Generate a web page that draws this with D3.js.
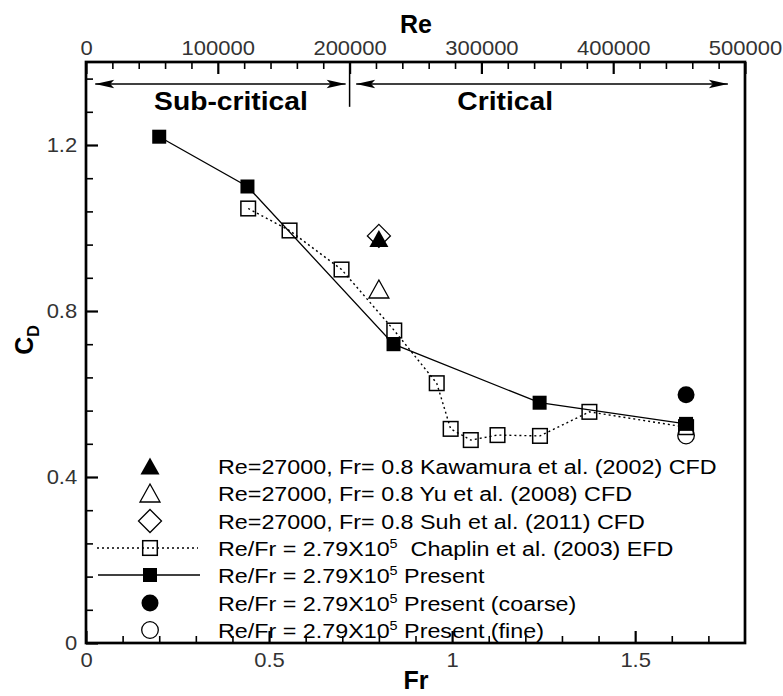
<!DOCTYPE html>
<html><head><meta charset="utf-8">
<script src="https://cdn.jsdelivr.net/npm/d3@7"></script>
<style>body{margin:0;background:#fff} svg{display:block}</style>
</head><body>
<svg id="c" width="783" height="696"></svg>
<script>
// ---------------- data ----------------
const presentFr = [0.200, 0.441, 0.840, 1.239, 1.639];
const presentCd = [1.220, 1.100, 0.720, 0.579, 0.528];
const chaplinFr = [0.443, 0.556, 0.698, 0.842, 0.958, 0.996, 1.051, 1.124, 1.240, 1.375, 1.639];
const chaplinCd = [1.047, 0.994, 0.900, 0.753, 0.626, 0.516, 0.489, 0.501, 0.499, 0.557, 0.520];
const kawamura = [0.80, 0.975];
const yu       = [0.80, 0.853];
const suh      = [0.80, 0.981];
const coarse   = [1.639, 0.598];
const fine     = [1.639, 0.500];

const frTicks = [0, 0.5, 1, 1.5];
const frTickLabels = ["0", "0.5", "1", "1.5"];
const cdTicks = [0, 0.4, 0.8, 1.2];
const cdTickLabels = ["0", "0.4", "0.8", "1.2"];
const reTicks = [0, 100000, 200000, 300000, 400000, 500000];
const reTickLabels = ["0", "100000", "200000", "300000", "400000", "500000"];

const regimeNames = ["Sub-critical", "Critical"];
const regimeArrows = [[7000, 197000], [205000, 487000]];
const regimeDivider = 200000;

const legendLabels = [
  ["Re=27000, Fr= 0.8 Kawamura et al. (2002) CFD"],
  ["Re=27000, Fr= 0.8 Yu et al. (2008) CFD"],
  ["Re=27000, Fr= 0.8 Suh et al. (2011) CFD"],
  ["Re/Fr = 2.79X10", "5", "  Chaplin et al. (2003) EFD"],
  ["Re/Fr = 2.79X10", "5", " Present"],
  ["Re/Fr = 2.79X10", "5", " Present (coarse)"],
  ["Re/Fr = 2.79X10", "5", " Present (fine)"]
];
const legendMarkers = ["triFilled", "triOpen", "diamond", "sqOpen", "sqFilled", "circFilled", "circOpen"];

// ---------------- setup ----------------
const svg = d3.select('#c');
const font = "'Liberation Sans', Arial, Helvetica, sans-serif";
const x = d3.scaleLinear().domain([0, 1.8]).range([86, 745]);
const xRe = d3.scaleLinear().domain([0, 500000]).range([86, 745]);
const y = d3.scaleLinear().domain([0, 1.4]).range([643, 62]);
const SX = 1.1;

function styleAxis(g, major) {
  g.select('.domain').remove();
  g.selectAll('line').attr('stroke', '#000').attr('stroke-width', major ? 2.2 : 1.6);
  g.selectAll('text').attr('font-family', font).attr('font-size', 20)
    .attr('fill', '#333').attr('transform', `scale(${SX},1)`);
}
const range = (a, b, s) => d3.range(Math.round(a / s), Math.round(b / s) + 1).map(i => +(i * s).toFixed(6));

// minor ticks
const frMinor = range(0, 1.7, 0.1).filter(v => !frTicks.some(t => Math.abs(t - v) < 1e-6));
const cdMinor = range(0, 1.36, 0.08).filter(v => !cdTicks.some(t => Math.abs(t - v) < 1e-6));
const reMinor = range(0, 480000, 20000).filter(v => v % 100000 !== 0);

svg.append('g').attr('transform', 'translate(0,643)')
  .call(d3.axisBottom(x).tickValues(frMinor).tickSize(-7).tickFormat('')).call(g => styleAxis(g, false));
svg.append('g').attr('transform', 'translate(0,643)')
  .call(d3.axisBottom(x).tickValues(frTicks).tickSize(-12).tickPadding(10)
    .tickFormat((d, i) => frTickLabels[i])).call(g => styleAxis(g, true));

svg.append('g').attr('transform', 'translate(86,0)')
  .call(d3.axisLeft(y).tickValues(cdMinor).tickSize(-7).tickFormat('')).call(g => styleAxis(g, false));
svg.append('g').attr('transform', 'translate(86,0)')
  .call(d3.axisLeft(y).tickValues(cdTicks).tickSize(-12).tickPadding(8)
    .tickFormat((d, i) => cdTickLabels[i])).call(g => styleAxis(g, true));

svg.append('g').attr('transform', 'translate(0,62)')
  .call(d3.axisTop(xRe).tickValues(reMinor).tickSize(-7).tickFormat('')).call(g => styleAxis(g, false));
svg.append('g').attr('transform', 'translate(0,62)')
  .call(d3.axisTop(xRe).tickValues(reTicks).tickSize(-12).tickPadding(7)
    .tickFormat((d, i) => reTickLabels[i])).call(g => styleAxis(g, true));

// axis titles
svg.append('text').attr('x', 416).attr('y', 689).attr('text-anchor', 'middle')
  .attr('font-family', font).attr('font-weight', 'bold').attr('font-size', 25).text('Fr');
svg.append('text').attr('x', 416).attr('y', 33).attr('text-anchor', 'middle')
  .attr('font-family', font).attr('font-weight', 'bold').attr('font-size', 25).text('Re');
const cdT = svg.append('text').attr('transform', 'translate(33,340) rotate(-90)')
  .attr('text-anchor', 'middle').attr('font-family', font).attr('font-weight', 'bold').attr('font-size', 25);
cdT.append('tspan').text('C');
cdT.append('tspan').attr('font-size', 16).attr('dy', 6).text('D');

// regime annotations
function arrowHead(px, py, dir) {
  const L = 19, w = 4.2;
  return `M${px},${py} L${px - dir * L},${py - w} L${px - dir * (L - 4)},${py} L${px - dir * L},${py + w} Z`;
}
const ay = y(1.347);
regimeArrows.forEach(([a, b]) => {
  svg.append('line').attr('x1', xRe(a)).attr('x2', xRe(b)).attr('y1', ay).attr('y2', ay)
    .attr('stroke', '#000').attr('stroke-width', 1.5);
  svg.append('path').attr('d', arrowHead(xRe(a), ay, -1)).attr('fill', '#000');
  svg.append('path').attr('d', arrowHead(xRe(b), ay, 1)).attr('fill', '#000');
});
svg.append('line').attr('x1', xRe(regimeDivider)).attr('x2', xRe(regimeDivider))
  .attr('y1', y(1.4)).attr('y2', y(1.292)).attr('stroke', '#000').attr('stroke-width', 1.5);
[[110000, regimeNames[0]], [318000, regimeNames[1]]].forEach(([re, name]) => {
  svg.append('g').attr('transform', `translate(${xRe(re)},110) scale(1.13,1)`)
    .append('text').attr('text-anchor', 'middle').attr('font-family', font)
    .attr('font-weight', 'bold').attr('font-size', 25).text(name);
});

// ---------------- markers ----------------
function drawMarker(g, type, cx, cy) {
  switch (type) {
    case 'sqFilled':
      g.append('rect').attr('x', cx - 7).attr('y', cy - 7).attr('width', 14).attr('height', 14).attr('fill', '#000');
      break;
    case 'sqOpen':
      g.append('rect').attr('x', cx - 7.3).attr('y', cy - 7.3).attr('width', 14.6).attr('height', 14.6)
        .attr('fill', 'none').attr('stroke', '#000').attr('stroke-width', 1.5);
      break;
    case 'triFilled':
      g.append('path').attr('d', `M${cx},${cy - 8.5} L${cx + 9.5},${cy + 8.5} L${cx - 9.5},${cy + 8.5} Z`).attr('fill', '#000');
      break;
    case 'triOpen':
      g.append('path').attr('d', `M${cx},${cy - 9} L${cx + 10},${cy + 9} L${cx - 10},${cy + 9} Z`)
        .attr('fill', 'none').attr('stroke', '#000').attr('stroke-width', 1.3);
      break;
    case 'diamond':
      g.append('path').attr('d', `M${cx},${cy - 11.5} L${cx + 11.5},${cy} L${cx},${cy + 11.5} L${cx - 11.5},${cy} Z`)
        .attr('fill', 'none').attr('stroke', '#000').attr('stroke-width', 1.3);
      break;
    case 'circFilled':
      g.append('circle').attr('cx', cx).attr('cy', cy).attr('r', 8.5).attr('fill', '#000');
      break;
    case 'circOpen':
      g.append('circle').attr('cx', cx).attr('cy', cy).attr('r', 8.3)
        .attr('fill', 'none').attr('stroke', '#000').attr('stroke-width', 1.3);
      break;
  }
}

const chaplin = chaplinFr.map((f, i) => ({ fr: f, cd: chaplinCd[i] }));
const present = presentFr.map((f, i) => ({ fr: f, cd: presentCd[i] }));
const line = d3.line().x(d => x(d.fr)).y(d => y(d.cd));
const gm = svg.append('g');

gm.append('path').datum(chaplin).attr('d', line).attr('fill', 'none').attr('stroke', '#000')
  .attr('stroke-width', 1.4).attr('stroke-dasharray', '2,3');
chaplin.forEach(d => drawMarker(gm, 'sqOpen', x(d.fr), y(d.cd)));
gm.append('path').datum(present).attr('d', line).attr('fill', 'none').attr('stroke', '#000').attr('stroke-width', 1.3);
present.forEach(d => drawMarker(gm, 'sqFilled', x(d.fr), y(d.cd)));
drawMarker(gm, 'triOpen', x(yu[0]), y(yu[1]));
drawMarker(gm, 'diamond', x(suh[0]), y(suh[1]));
drawMarker(gm, 'triFilled', x(kawamura[0]), y(kawamura[1]));
drawMarker(gm, 'circFilled', x(coarse[0]), y(coarse[1]));
drawMarker(gm, 'circOpen', x(fine[0]), y(fine[1]));

// ---------------- legend ----------------
const legRows = [466, 493, 521, 548, 575, 603, 630];
const gl = svg.append('g');
legendLabels.forEach((parts, i) => {
  const ry = legRows[i];
  if (legendMarkers[i] === 'sqOpen') {
    gl.append('line').attr('x1', 97).attr('x2', 198).attr('y1', ry).attr('y2', ry)
      .attr('stroke', '#000').attr('stroke-width', 1.3).attr('stroke-dasharray', '2,3');
  }
  if (legendMarkers[i] === 'sqFilled') {
    gl.append('line').attr('x1', 98).attr('x2', 200).attr('y1', ry).attr('y2', ry)
      .attr('stroke', '#000').attr('stroke-width', 1.3);
  }
  drawMarker(gl, legendMarkers[i], 150, ry);
  const t = gl.append('g').attr('transform', `translate(218,${ry + 7.5}) scale(1.11,1)`)
    .append('text').attr('font-family', font).attr('font-size', 21).attr('fill', '#000')
    .style('white-space', 'pre');
  t.append('tspan').text(parts[0]);
  if (parts.length > 1) {
    t.append('tspan').attr('font-size', 13).attr('dy', -8).text(parts[1]);
    t.append('tspan').attr('dy', 8).text(parts[2]);
  }
});

// ---------------- frame ----------------
svg.append('rect').attr('x', x(0)).attr('y', y(1.4)).attr('width', x(1.8) - x(0)).attr('height', y(0) - y(1.4))
  .attr('fill', 'none').attr('stroke', '#000').attr('stroke-width', 2.7);
</script>
</body></html>
